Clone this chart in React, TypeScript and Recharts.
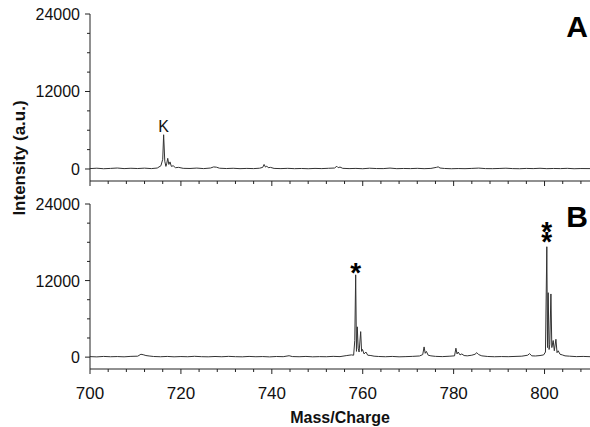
import React from "react";
import { LineChart, Line, XAxis, YAxis, ReferenceDot } from "recharts";

// spectrum A (m/z, intensity)
const mzA = [700, 701.5, 703, 704.5, 706, 707.5, 709, 710.5, 712, 713.5, 714.8, 715.6, 716.0, 716.2, 716.45, 716.7, 716.9, 717.1, 717.35, 717.6, 717.9, 718.3, 718.8, 719.5, 720.5, 722, 723.5, 725, 726.5, 727.2, 727.8, 728.5, 730, 731.5, 733, 734.5, 736, 737.3, 738.0, 738.3, 738.6, 738.9, 739.2, 739.7, 740.5, 742, 743.5, 745, 746.5, 748, 749.5, 751, 752.5, 753.8, 754.3, 754.6, 755, 755.6, 757, 758.5, 760, 761.5, 763, 764.5, 766, 767.5, 769, 770.5, 772, 773.5, 775, 776.2, 776.6, 777, 778, 779.5, 781, 782.5, 784, 785.5, 787, 788.5, 790, 791.5, 793, 794.5, 796, 797.5, 799, 800.5, 802, 803.5, 805, 806.5, 808, 810];
const intA = [60, 120, 40, 90, 150, 60, 110, 70, 130, 60, 150, 500, 1500, 5300, 1200, 400, 900, 1650, 700, 1100, 400, 500, 200, 250, 100, 80, 140, 60, 150, 320, 280, 120, 70, 110, 50, 90, 60, 120, 250, 700, 300, 450, 200, 250, 90, 60, 100, 50, 80, 40, 90, 60, 110, 150, 420, 200, 300, 100, 60, 90, 40, 120, 70, 60, 140, 50, 80, 60, 100, 50, 90, 250, 330, 150, 80, 40, 70, 50, 90, 140, 60, 50, 80, 120, 60, 40, 90, 60, 110, 50, 80, 60, 100, 40, 70, 60];

// spectrum B
const mzB = [700, 701.5, 703, 704.5, 706, 707.5, 709, 710.5, 711.2, 711.7, 712.3, 713, 714, 715.5, 717, 718.5, 720, 721.5, 723, 724.5, 726, 727.5, 729, 730.5, 732, 733.5, 735, 736.5, 738, 739.5, 741, 742.5, 743.8, 744.5, 746, 747.5, 749, 750.5, 752, 753.5, 755, 756.5, 757.5, 758.0, 758.25, 758.45, 758.62, 758.8, 759.0, 759.2, 759.55, 759.75, 759.95, 760.3, 760.7, 761.1, 761.8, 762.5, 763.5, 765, 766.5, 768, 769.5, 771, 772.5, 773.2, 773.5, 773.75, 774.0, 774.4, 775, 776, 777.5, 779, 780.2, 780.5, 780.75, 781.0, 781.4, 781.8, 782.3, 783, 784, 784.7, 785.1, 785.5, 786.2, 787.5, 789, 790.5, 792, 793.5, 795, 796.3, 796.7, 797.2, 798, 799, 799.8, 800.2, 800.5, 800.65, 800.8, 801.0, 801.15, 801.4, 801.6, 801.9, 802.15, 802.5, 802.75, 803.0, 803.4, 803.9, 804.5, 805.5, 807, 808.5, 810];
const intB = [80, 40, 110, 60, 90, 50, 120, 150, 450, 380, 250, 180, 100, 60, 110, 50, 90, 60, 130, 70, 50, 100, 60, 120, 70, 50, 110, 60, 90, 40, 100, 70, 220, 90, 60, 110, 50, 80, 60, 120, 80, 250, 350, 300, 2600, 12900, 900, 4750, 1400, 800, 4000, 900, 1200, 500, 800, 300, 250, 150, 100, 60, 110, 50, 80, 120, 180, 400, 1600, 600, 900, 300, 200, 120, 80, 140, 200, 1400, 500, 800, 350, 500, 250, 200, 300, 450, 700, 400, 200, 100, 60, 90, 70, 110, 150, 300, 550, 200, 180, 250, 350, 800, 17300, 1500, 10100, 1200, 2000, 9900, 1500, 2600, 1000, 2800, 700, 1000, 450, 350, 200, 150, 80, 110, 70];

const xTicks = [700, 704, 708, 712, 716, 720, 724, 728, 732, 736, 740, 744, 748, 752, 756, 760, 764, 768, 772, 776, 780, 784, 788, 792, 796, 800, 804, 808];
const yTicks = [0, 3000, 6000, 9000, 12000, 15000, 18000, 21000, 24000];

const dataA = mzA.map((m, i) => ({ mz: m, intensity: intA[i] }));
const dataB = mzB.map((m, i) => ({ mz: m, intensity: intB[i] }));

const FONT = "'Liberation Sans', Arial, Helvetica, sans-serif";
const AXIS = "#222";

function XTick(props: any) {
  const { x, y, payload, showLabel } = props;
  const major = payload.value % 20 === 0;
  return (
    <g>
      <line x1={x} x2={x} y1={y} y2={y + (major ? 5 : 3)} stroke={AXIS} />
      {showLabel && major && (
        <text x={x} y={y + 30} textAnchor="middle" fontSize={17} fill="#111" fontFamily={FONT}>
          {payload.value}
        </text>
      )}
    </g>
  );
}

function YTick(props: any) {
  const { x, y, payload } = props;
  const major = payload.value % 12000 === 0;
  return (
    <g>
      <line x1={x - (major ? 5 : 3)} x2={x} y1={y} y2={y} stroke={AXIS} />
      {major && (
        <text x={x - 10} y={y + 6} textAnchor="end" fontSize={16} fill="#111" fontFamily={FONT}>
          {payload.value}
        </text>
      )}
    </g>
  );
}

function Panel({ data, height, xHeight, showLabels, children }: any) {
  return (
    <LineChart width={590} height={height} data={data} margin={{ top: 14, right: 0, bottom: 0, left: 0 }}>
      <XAxis
        dataKey="mz"
        type="number"
        domain={[700, 810]}
        allowDataOverflow
        ticks={xTicks}
        interval={0}
        height={xHeight}
        tickSize={0}
        tickMargin={0}
        tickLine={false}
        axisLine={{ stroke: AXIS }}
        tick={(p: any) => <XTick {...p} showLabel={showLabels} />}
      />
      <YAxis
        type="number"
        domain={[-1860, 24000]}
        allowDataOverflow
        ticks={yTicks}
        interval={0}
        width={90}
        tickSize={0}
        tickMargin={0}
        tickLine={false}
        axisLine={{ stroke: AXIS }}
        tick={(p: any) => <YTick {...p} />}
      />
      <Line
        dataKey="intensity"
        type="linear"
        stroke="#333"
        strokeWidth={1}
        dot={false}
        isAnimationActive={false}
      />
      {children}
    </LineChart>
  );
}

const panelLabel = (text: string) => ({
  value: text,
  position: "insideTopRight" as const,
  offset: 2,
  fontSize: 30,
  fontWeight: "bold",
  fill: "#000",
  fontFamily: FONT,
});

const starLabel = {
  value: "*",
  position: "top" as const,
  offset: -7,
  fontSize: 28,
  fontWeight: "bold",
  fill: "#000",
  fontFamily: FONT,
};

// two asterisks stacked above a peak, set as one vertical text run
function DoubleStar({ viewBox }: any) {
  const cx = viewBox.x + (viewBox.width || 0) / 2;
  const cy = viewBox.y;
  return (
    <text
      x={cx}
      y={cy - 31}
      fontSize={28}
      fontWeight="bold"
      fill="#000"
      fontFamily={FONT}
      letterSpacing={-21}
      style={{ writingMode: "vertical-rl", textOrientation: "upright" } as any}
    >
      **
    </text>
  );
}

export default function App() {
  return (
    <div style={{ position: "absolute", left: 0, top: 0, width: 590, height: 427, background: "#fff", fontFamily: FONT }}>
      <div style={{ position: "absolute", left: 0, top: 0 }}>
        <Panel data={dataA} height={190} xHeight={9} showLabels={false}>
          <ReferenceDot x={716.2} y={5300} r={0} fill="none" stroke="none"
            label={{ value: "K", position: "top", offset: 3, fontSize: 16, fill: "#111", fontFamily: FONT }} />
          <ReferenceDot x={810} y={24000} r={0} fill="none" stroke="none" label={panelLabel("A")} />
        </Panel>
      </div>
      <div style={{ position: "absolute", left: 0, top: 190 }}>
        <Panel data={dataB} height={237} xHeight={58} showLabels={true}>
          <ReferenceDot x={758.45} y={12900} r={0} fill="none" stroke="none" label={starLabel} />
          <ReferenceDot x={800.5} y={17300} r={0} fill="none" stroke="none"
            label={{ content: (p: any) => <DoubleStar {...p} /> }} />
          <ReferenceDot x={810} y={24000} r={0} fill="none" stroke="none" label={panelLabel("B")} />
        </Panel>
      </div>
      <div
        style={{
          position: "absolute",
          left: 19,
          top: 158,
          transform: "translate(-50%, -50%) rotate(-90deg)",
          whiteSpace: "nowrap",
          fontSize: 17,
          fontWeight: "bold",
          color: "#111",
          lineHeight: 1,
        }}
      >
        Intensity (a.u.)
      </div>
      <div
        style={{
          position: "absolute",
          left: 340,
          top: 410,
          transform: "translateX(-50%)",
          whiteSpace: "nowrap",
          fontSize: 16,
          fontWeight: "bold",
          color: "#111",
          lineHeight: 1,
        }}
      >
        Mass/Charge
      </div>
    </div>
  );
}
